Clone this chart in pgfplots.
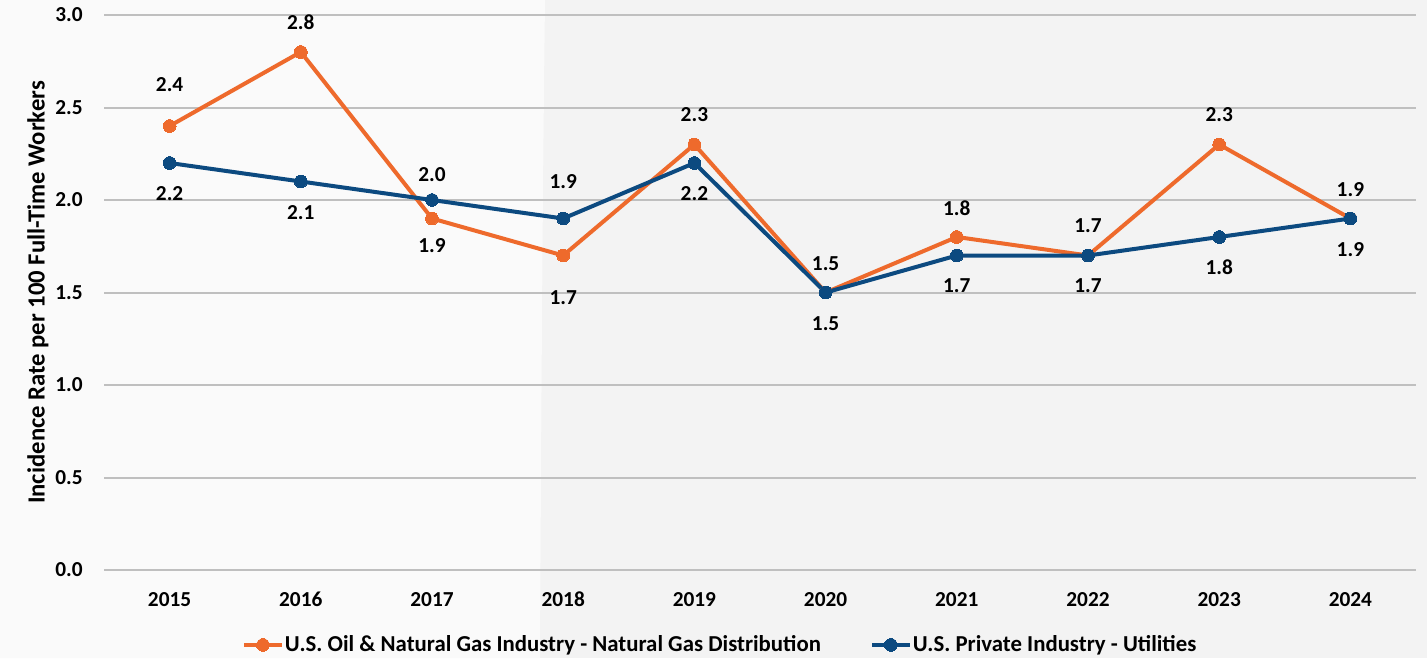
\documentclass[border=0pt]{standalone}
\usepackage{fontspec}
\setmainfont{Carlito}
\usepackage{pgfplots}
\pgfplotsset{compat=1.18}
\usepackage{pgfplotstable}
\definecolor{org}{HTML}{EE6A2C}
\definecolor{blu}{HTML}{0C4A80}
\definecolor{bgl}{HTML}{FAFAFA}
\definecolor{bgr}{HTML}{F3F3F3}
\definecolor{grd}{HTML}{BFBFBF}

\pgfplotstableread{
x y off
0 2.4 41
1 2.8 30
2 1.9 -27
3 1.7 -42
4 2.3 30
5 1.5 29
6 1.8 29
7 1.7 30
8 2.3 30
9 1.9 29
}\orangedata

\pgfplotstableread{
x y off
0 2.2 -31
1 2.1 -31
2 2.0 25
3 1.9 37
4 2.2 -31
5 1.5 -31
6 1.7 -30
7 1.7 -30
8 1.8 -30
9 1.9 -31
}\bluedata

\begin{document}
\begin{tikzpicture}
\fill[bgr] (0,0) rectangle (1070.25pt,493.5pt);
\fill[bgl] (0,0) -- (405pt,0) .. controls (406pt,200pt) and (407pt,350pt) .. (408.75pt,493.5pt) -- (0,493.5pt) -- cycle;
\begin{axis}[
  at={(78pt,66pt)}, anchor=south west,
  scale only axis,
  width=984pt, height=416.25pt,
  xmin=-0.5, xmax=9.5,
  ymin=0, ymax=3,
  xtick={0,...,9},
  xticklabels={2015,2016,2017,2018,2019,2020,2021,2022,2023,2024},
  ytick={0,0.5,...,3},
  axis line style={draw=none},
  major tick length=0pt,
  ymajorgrids,
  grid style={grd, line width=1.5pt},
  /pgf/number format/assume math mode=true,
  yticklabel={\pgfmathprintnumber[fixed,fixed zerofill,precision=1]{\tick}},
  ticklabel style={font=\bfseries\fontsize{16}{19}\selectfont},
  yticklabel style={anchor=east, inner sep=0pt, xshift=-15.75pt},
  xticklabel style={anchor=base, inner sep=0pt, yshift=-27.4pt},
  ylabel={Incidence Rate per 100 Full-Time Workers},
  ylabel style={at={(axis description cs:-0.0503,0.5)}, anchor=center, font=\bfseries\fontsize{18.5}{22}\selectfont},
  legend style={at={(axis description cs:0.4695,-0.135)}, anchor=center, draw=none, fill=none,
    legend columns=2, font=\bfseries\fontsize{17.1}{20}\selectfont,
    nodes={inner sep=1pt},
    /tikz/every even column/.append style={column sep=36pt}},
  legend image code/.code={\draw[#1, mark repeat=2, mark phase=2] plot coordinates {(0pt,0pt) (14pt,0pt) (28pt,0pt)};},
  nodes near coords,
  point meta=explicit symbolic,
  visualization depends on={\thisrow{off} \as \loff},
  every node near coord/.append style={anchor=center, yshift=\loff*0.75pt, text=black, font=\bfseries\fontsize{16}{19}\selectfont},
  clip=false,
]
\addplot[org, line width=3pt, mark=*, mark size=4.8pt, mark options={fill=org, draw=org, line width=0pt}] table[x=x, y=y, meta=y] {\orangedata};
\addlegendentry{U.S. Oil \& Natural Gas Industry - Natural Gas Distribution}
\addplot[blu, line width=3pt, mark=*, mark size=4.8pt, mark options={fill=blu, draw=blu, line width=0pt}] table[x=x, y=y, meta=y] {\bluedata};
\addlegendentry{U.S. Private Industry - Utilities}
\end{axis}
\end{tikzpicture}
\end{document}
